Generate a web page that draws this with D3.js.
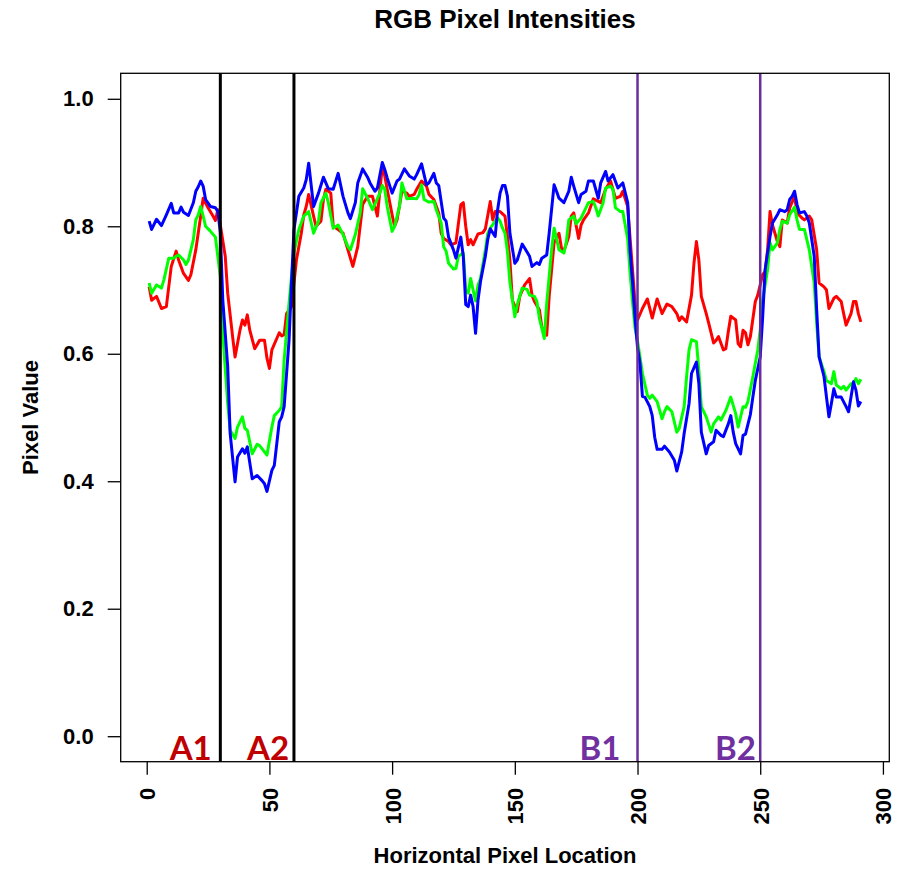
<!DOCTYPE html>
<html>
<head>
<meta charset="utf-8">
<script src="https://cdn.jsdelivr.net/npm/d3@7"></script>
<style>
    body { margin: 0; background: #fff; }
    svg { display: block; }
    text { font-family: "Liberation Sans", Arial, sans-serif; font-weight: bold; }
    .marker-label { font-family: Lato, "Open Sans", sans-serif; font-weight: bold; }
</style>
</head>
<body>
<svg id="chart" width="903" height="870"></svg>
<script>
// Values, [pixel location, value]
const redPoints = [
    [1,.705],[2,.684],[4,.690],[6,.671],[8,.674],[10,.737],[12,.761],[13,.747],[15,.726],[17,.715],
    [18,.724],[20,.763],[22,.816],[23,.844],[25,.829],[27,.816],[28,.809],[29,.826],[32,.753],[33,.695],
    [35,.627],[36,.595],[38,.637],[39,.653],[40,.645],[41,.661],[42,.637],[44,.608],[46,.621],[48,.621],
    [49,.593],[50,.577],[51,.606],[54,.633],[55,.628],[56,.630],[57,.663],[59,.674],[60,.711],[61,.747],
    [63,.789],[64,.818],[65,.831],[66,.850],[68,.816],[69,.800],[71,.808],[72,.842],[73,.858],[75,.852],
    [76,.800],[78,.795],[80,.789],[82,.763],[84,.737],[86,.768],[88,.834],[90,.847],[92,.847],[94,.816],
    [96,.894],[97,.879],[98,.858],[100,.818],[101,.800],[102,.810],[104,.855],[106,.852],[107,.847],[109,.850],
    [110,.858],[112,.871],[114,.863],[115,.850],[117,.842],[119,.821],[120,.789],[121,.781],[123,.776],[124,.771],
    [126,.774],[128,.834],[129,.837],[130,.800],[131,.771],[132,.779],[133,.771],[135,.788],[137,.790],[138,.796],
    [140,.839],[141,.810],[142,.823],[144,.823],[146,.816],[147,.784],[148,.747],[149,.684],[151,.666],[152,.690],
    [154,.708],[156,.718],[157,.692],[158,.682],[160,.669],[161,.642],[163,.629],[164,.690],[166,.774],[168,.789],
    [169,.766],[170,.761],[172,.784],[173,.816],[174,.821],[176,.781],[177,.802],[178,.810],[180,.821],[182,.843],
    [184,.839],[185,.837],[187,.858],[189,.871],[191,.844],[193,.847],[194,.855],[196,.831],[197,.780],[198,.730],
    [199,.680],[200,.653],[202,.671],[204,.686],[206,.656],[208,.686],[210,.663],[212,.678],[214,.674],[216,.663],
    [217,.652],[218,.658],[220,.650],[222,.692],[223,.742],[224,.776],[225,.747],[226,.690],[228,.663],[229,.648],
    [231,.617],[232,.621],[233,.627],[235,.606],[236,.608],[237,.635],[238,.659],[240,.653],[241,.616],[242,.611],
    [243,.637],[244,.633],[245,.614],[246,.627],[248,.682],[249,.692],[251,.724],[252,.729],[253,.763],[254,.823],
    [255,.802],[257,.776],[258,.768],[259,.810],[261,.805],[262,.829],[264,.847],[265,.821],[267,.813],[268,.810],
    [270,.816],[271,.810],[273,.763],[274,.711],[276,.705],[277,.700],[278,.671],[280,.687],[281,.690],[283,.682],
    [284,.663],[285,.645],[287,.663],[288,.682],[289,.682],[290,.663],[291,.650]
];

const greenPoints = [
    [1,.711],[2,.695],[4,.708],[6,.703],[7,.716],[9,.750],[11,.750],[12,.753],[13,.755],[15,.747],
    [16,.740],[17,.747],[19,.779],[20,.810],[21,.818],[22,.831],[23,.816],[24,.800],[26,.792],[28,.783],
    [30,.721],[31,.632],[33,.522],[34,.480],[36,.467],[37,.485],[39,.501],[40,.483],[41,.480],[43,.443],
    [45,.458],[46,.456],[48,.446],[49,.441],[51,.485],[52,.503],[54,.511],[55,.517],[56,.590],[58,.679],
    [59,.721],[60,.758],[62,.795],[64,.816],[66,.823],[68,.789],[70,.808],[71,.837],[73,.852],[74,.837],
    [76,.797],[78,.802],[80,.787],[82,.768],[83,.763],[85,.787],[87,.821],[88,.859],[90,.844],[92,.826],
    [95,.852],[96,.864],[97,.858],[98,.831],[100,.792],[101,.800],[103,.831],[104,.868],[106,.843],[108,.844],
    [110,.843],[111,.850],[112,.865],[113,.842],[115,.838],[117,.839],[118,.826],[120,.805],[121,.768],[122,.761],
    [123,.742],[125,.733],[126,.734],[127,.753],[129,.758],[130,.700],[131,.695],[132,.718],[133,.700],[134,.683],
    [135,.708],[136,.718],[138,.763],[139,.789],[140,.797],[142,.808],[143,.813],[144,.808],[145,.797],[146,.789],
    [147,.760],[148,.712],[150,.658],[151,.677],[153,.703],[155,.701],[156,.692],[158,.690],[159,.682],[160,.656],
    [162,.624],[163,.679],[165,.763],[166,.797],[167,.781],[168,.763],[170,.758],[171,.776],[172,.810],[174,.816],
    [175,.804],[177,.813],[178,.821],[180,.837],[182,.839],[183,.829],[184,.816],[186,.837],[187,.860],[189,.863],
    [190,.858],[191,.829],[193,.823],[194,.823],[196,.780],[197,.725],[198,.680],[199,.640],[200,.620],[201,.595],
    [202,.569],[204,.535],[205,.530],[206,.535],[208,.525],[210,.498],[211,.509],[212,.517],[214,.509],[216,.477],
    [217,.483],[219,.517],[220,.564],[221,.606],[222,.622],[224,.619],[225,.574],[226,.517],[228,.501],[230,.477],
    [231,.490],[233,.501],[234,.496],[236,.511],[238,.532],[240,.506],[241,.485],[243,.517],[244,.516],[245,.525],
    [247,.564],[249,.606],[250,.637],[251,.684],[253,.732],[254,.774],[255,.763],[257,.774],[258,.795],[259,.808],
    [261,.805],[262,.818],[264,.830],[265,.810],[266,.795],[268,.795],[269,.779],[270,.763],[272,.711],[273,.648],
    [274,.595],[276,.572],[277,.558],[279,.553],[280,.572],[281,.551],[283,.545],[284,.549],[285,.543],[287,.553],
    [288,.553],[289,.561],[290,.553],[291,.560]
];

const bluePoints = [
    [1,.808],[2,.795],[4,.811],[6,.801],[8,.818],[10,.836],[11,.821],[13,.821],[14,.830],[15,.822],
    [17,.817],[19,.837],[20,.855],[21,.862],[22,.871],[23,.863],[24,.842],[26,.831],[28,.829],[29,.823],
    [30,.790],[31,.684],[33,.580],[34,.475],[36,.399],[37,.438],[39,.451],[40,.444],[41,.454],[43,.404],
    [45,.409],[47,.401],[48,.396],[49,.384],[51,.417],[52,.425],[54,.493],[55,.501],[56,.517],[58,.621],
    [59,.711],[60,.795],[62,.847],[64,.860],[65,.873],[66,.899],[68,.831],[70,.852],[72,.877],[74,.859],
    [76,.858],[78,.883],[80,.847],[82,.821],[83,.812],[85,.837],[86,.868],[88,.890],[90,.877],[91,.868],
    [93,.855],[94,.860],[96,.900],[97,.889],[98,.876],[100,.852],[102,.871],[103,.874],[105,.890],[107,.879],
    [109,.874],[110,.881],[112,.898],[114,.865],[115,.868],[117,.883],[118,.868],[119,.864],[121,.813],[122,.808],
    [123,.783],[125,.763],[126,.750],[128,.783],[129,.753],[130,.677],[131,.674],[132,.692],[133,.674],[134,.632],
    [135,.684],[136,.713],[138,.753],[139,.780],[140,.796],[142,.784],[143,.826],[144,.852],[145,.864],[146,.864],
    [147,.847],[148,.789],[150,.742],[151,.747],[153,.772],[154,.766],[156,.753],[157,.737],[159,.743],[160,.740],
    [161,.750],[163,.755],[164,.789],[166,.865],[167,.855],[168,.844],[170,.837],[172,.855],[173,.877],[174,.863],
    [176,.837],[177,.850],[179,.855],[180,.871],[182,.871],[184,.844],[185,.868],[187,.886],[188,.871],[190,.881],
    [192,.860],[193,.864],[194,.868],[196,.837],[197,.760],[198,.710],[199,.655],[200,.610],[201,.585],[202,.533],
    [203,.532],[205,.517],[206,.503],[207,.469],[208,.450],[210,.450],[211,.455],[213,.446],[215,.433],[216,.416],
    [218,.446],[219,.475],[221,.522],[222,.569],[224,.587],[225,.553],[226,.477],[228,.443],[229,.456],[231,.462],
    [232,.480],[234,.472],[235,.470],[237,.490],[238,.503],[239,.477],[240,.459],[242,.443],[243,.472],[244,.474],
    [246,.505],[247,.532],[248,.558],[250,.595],[251,.658],[252,.732],[254,.784],[255,.805],[257,.818],[258,.826],
    [260,.823],[261,.826],[262,.842],[263,.847],[264,.855],[265,.834],[266,.821],[268,.823],[269,.816],[270,.805],
    [272,.753],[273,.669],[274,.595],[276,.564],[277,.532],[278,.501],[279,.522],[280,.545],[281,.532],[283,.532],
    [285,.517],[286,.509],[287,.532],[288,.556],[289,.543],[290,.518],[291,.525]
];

const xTicks = [0, 50, 100, 150, 200, 250, 300];
const yTicks = [0, 0.2, 0.4, 0.6, 0.8, 1.0];

// Vertical reference lines and their labels
const markerLines = [30, 60, 200, 250];
const markerGroups = ["A", "A", "B", "B"];
const markerLabels = ["A1", "A2", "B1", "B2"];
const markerLabelX = [26.5, 58, 193, 248.2];

const groupColour = { A: "#c00000", B: "#7030a0" };
const lineColour = { A: "#000000", B: "#6a2d9e" };

const svg = d3.select("#chart");

const plot = { left: 120.7, right: 889.3, top: 73.3, bottom: 761.7 };

// R-style 4% padding around the data range
const x = d3.scaleLinear()
    .domain([1 - 0.04 * 290, 291 + 0.04 * 290])
    .range([plot.left, plot.right]);

const y = d3.scaleLinear()
    .domain([-0.04, 1.04])
    .range([plot.bottom, plot.top]);

// Series
const line = d3.line()
    .x(d => x(d[0]))
    .y(d => y(d[1]));

const series = [
    { points: redPoints, colour: "#ff0000" },
    { points: greenPoints, colour: "#00ff00" },
    { points: bluePoints, colour: "#0000ff" }
];

svg.append("g")
    .selectAll("path")
    .data(series)
    .enter()
    .append("path")
    .attr("d", d => line(d.points))
    .attr("fill", "none")
    .attr("stroke", d => d.colour)
    .attr("stroke-width", 3)
    .attr("stroke-linejoin", "round");

// Vertical lines
svg.append("g")
    .selectAll("line")
    .data(markerLines)
    .enter()
    .append("line")
    .attr("x1", d => x(d))
    .attr("x2", d => x(d))
    .attr("y1", plot.top)
    .attr("y2", plot.bottom)
    .attr("stroke", (d, i) => lineColour[markerGroups[i]])
    .attr("stroke-width", (d, i) => markerGroups[i] === "A" ? 3 : 2.5);

svg.append("g")
    .selectAll("text")
    .data(markerLabels)
    .enter()
    .append("text")
    .attr("class", "marker-label")
    .attr("x", (d, i) => x(markerLabelX[i]))
    .attr("y", plot.bottom - 2)
    .attr("text-anchor", "end")
    .attr("fill", (d, i) => groupColour[markerGroups[i]])
    .style("font-size", "33px")
    .text(d => d);

// Plot box
svg.append("rect")
    .attr("x", plot.left)
    .attr("y", plot.top)
    .attr("width", plot.right - plot.left)
    .attr("height", plot.bottom - plot.top)
    .attr("fill", "none")
    .attr("stroke", "#000")
    .attr("stroke-width", 1.3);

// Axes
const xAxis = svg.append("g")
    .attr("transform", `translate(0, ${plot.bottom})`)
    .call(d3.axisBottom(x).tickValues(xTicks).tickSize(13).tickFormat(d3.format("d")));

xAxis.select(".domain").remove();
xAxis.selectAll(".tick line").attr("stroke-width", 1.3);
xAxis.selectAll(".tick text")
    .attr("transform", "rotate(-90)")
    .attr("x", -26)
    .attr("y", 0)
    .attr("dy", "0.36em")
    .attr("text-anchor", "end")
    .attr("fill", "#000")
    .style("font-size", "22px");

const yAxis = svg.append("g")
    .attr("transform", `translate(${plot.left}, 0)`)
    .call(d3.axisLeft(y).tickValues(yTicks).tickSize(13).tickPadding(14).tickFormat(d3.format(".1f")));

yAxis.select(".domain").remove();
yAxis.selectAll(".tick line").attr("stroke-width", 1.3);
yAxis.selectAll(".tick text")
    .attr("fill", "#000")
    .style("font-size", "22px");

// Titles
svg.append("text")
    .attr("x", (plot.left + plot.right) / 2)
    .attr("y", 28)
    .attr("text-anchor", "middle")
    .style("font-size", "26px")
    .text("RGB Pixel Intensities");

svg.append("text")
    .attr("x", (plot.left + plot.right) / 2)
    .attr("y", 863)
    .attr("text-anchor", "middle")
    .style("font-size", "22px")
    .text("Horizontal Pixel Location");

svg.append("text")
    .attr("transform", `translate(38, ${(plot.top + plot.bottom) / 2}) rotate(-90)`)
    .attr("text-anchor", "middle")
    .style("font-size", "22px")
    .text("Pixel Value");
</script>
</body>
</html>
